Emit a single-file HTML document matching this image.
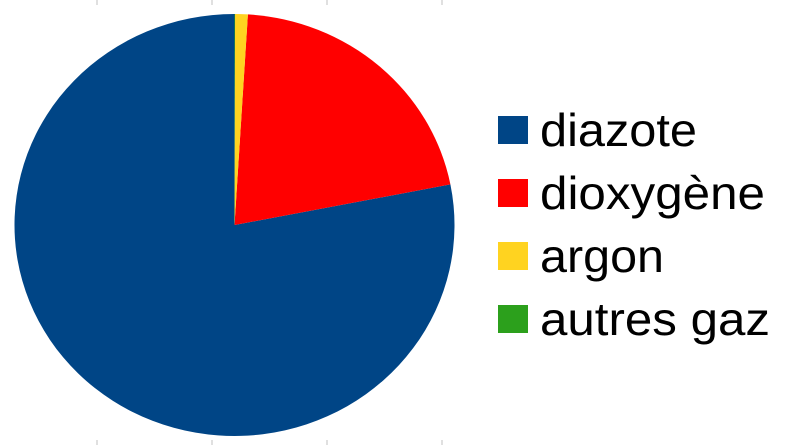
<!DOCTYPE html>
<html><head><meta charset="utf-8"><style>
html,body{margin:0;padding:0;background:#fff;}
svg{display:block;font-family:"Liberation Sans",sans-serif;}
</style></head><body>
<svg id="chart" width="787" height="445" viewBox="0 0 787 445" xmlns="http://www.w3.org/2000/svg">
<g id="ticks" stroke="#c0c0c0" stroke-width="1"></g>
<g id="slices"></g>
<g id="legend"></g>
</svg>
<script>
const categories = ["diazote", "dioxygène", "argon", "autres gaz"];
const values = [78.08, 20.95, 0.93, 0.04];
const colors = ["#004586", "#ff0000", "#ffd320", "#2ca01c"];
const legendWidths = [157, 225, 124, 230];

const NS = "http://www.w3.org/2000/svg";
const cx = 234.5, cy = 225, rx = 220, ry = 211;
const total = values.reduce((a, b) => a + b, 0);
const slices = document.getElementById("slices");
const legend = document.getElementById("legend");
const ticks = document.getElementById("ticks");

[97, 212, 327, 442].forEach(x => {
  [[0, 5], [440, 445]].forEach(([y1, y2]) => {
    const l = document.createElementNS(NS, "line");
    l.setAttribute("x1", x); l.setAttribute("x2", x);
    l.setAttribute("y1", y1); l.setAttribute("y2", y2);
    
    
    ticks.appendChild(l);
  });
});

function pt(frac) {
  // counterclockwise from top
  const a = -Math.PI / 2 - frac * 2 * Math.PI;
  return [cx + rx * Math.cos(a), cy + ry * Math.sin(a)];
}
let acc = 0;
values.forEach((v, i) => {
  const f0 = acc / total, f1 = (acc + v) / total;
  acc += v;
  const [x0, y0] = pt(f0), [x1, y1] = pt(f1);
  const large = (f1 - f0) > 0.5 ? 1 : 0;
  const p = document.createElementNS(NS, "path");
  p.setAttribute("d", `M${cx},${cy} L${x0},${y0} A${rx},${ry} 0 ${large} 0 ${x1},${y1} Z`);
  p.setAttribute("fill", colors[i]);
  
  
  slices.appendChild(p);

  const y = 116 + i * 63;
  const r = document.createElementNS(NS, "rect");
  r.setAttribute("x", 498); r.setAttribute("y", y);
  r.setAttribute("width", 30); r.setAttribute("height", 28);
  r.setAttribute("fill", colors[i]);
  
  
  legend.appendChild(r);
  const t = document.createElementNS(NS, "text");
  t.setAttribute("x", 540); t.setAttribute("y", y + 30);
  t.setAttribute("font-size", "46");
  t.setAttribute("fill", "#000");
  t.setAttribute("textLength", legendWidths[i]);
  t.setAttribute("lengthAdjust", "spacingAndGlyphs");
  t.textContent = categories[i];
  
  
  legend.appendChild(t);
});
</script>
</body></html>
